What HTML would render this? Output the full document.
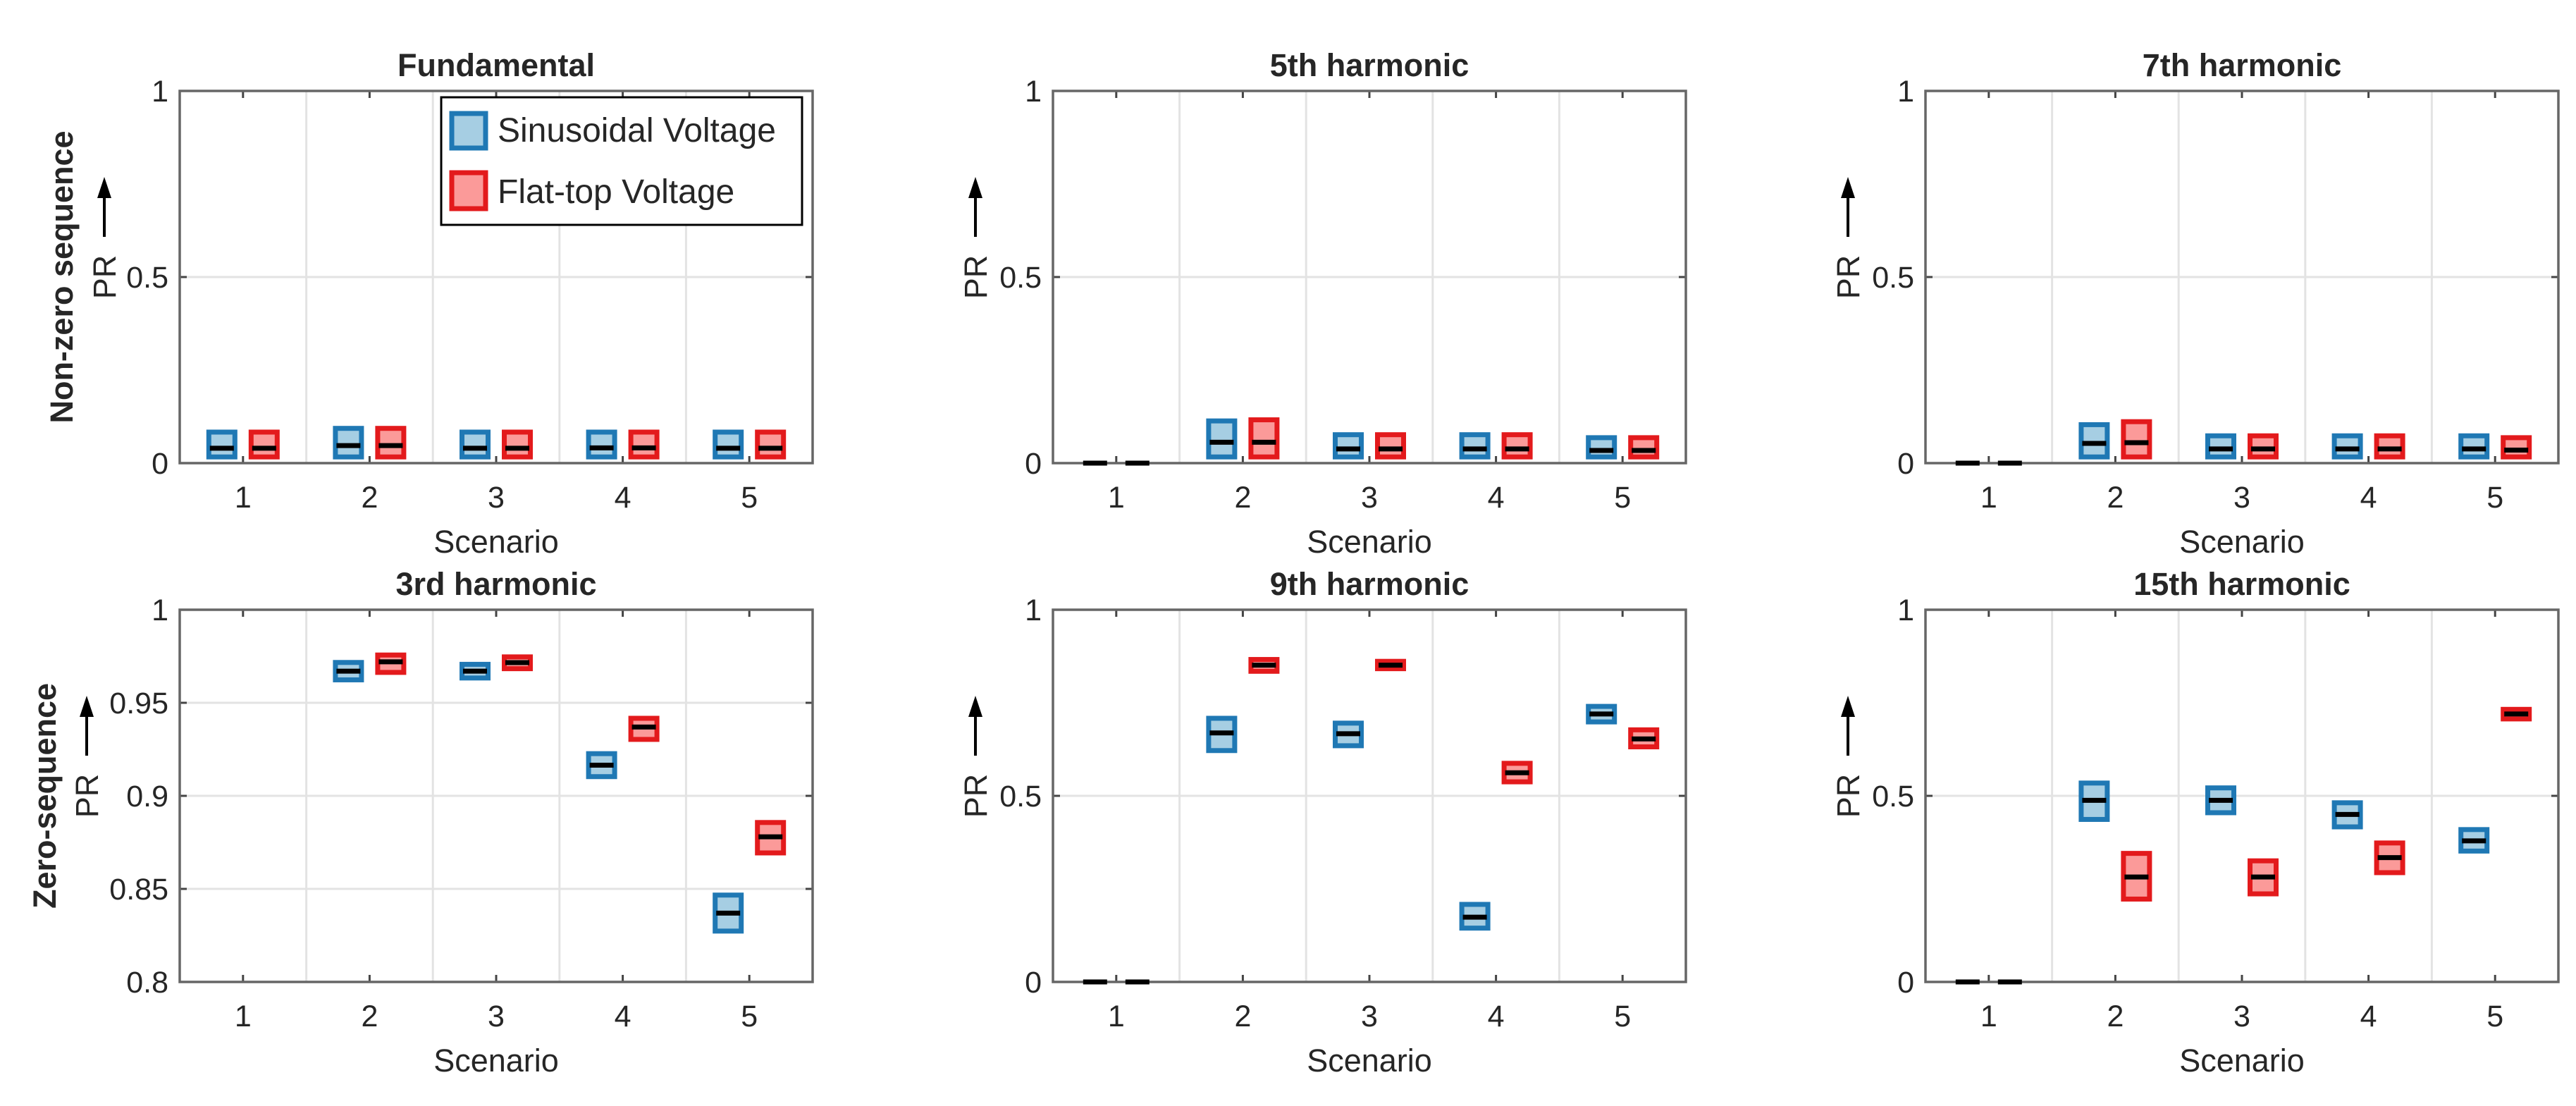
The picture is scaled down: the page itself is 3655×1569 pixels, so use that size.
<!DOCTYPE html>
<html><head><meta charset="utf-8"><style>
html,body{margin:0;padding:0;background:#fff;}
svg{display:block;}
text{font-family:"Liberation Sans",Arial,sans-serif;fill:#262626;}
</style></head><body>
<svg id="fig" xmlns="http://www.w3.org/2000/svg" width="3655" height="1569" viewBox="0 0 3655 1569"></svg>
<script>
const categories = [1, 2, 3, 4, 5];
const panelTitles = ["Fundamental", "5th harmonic", "7th harmonic", "3rd harmonic", "9th harmonic", "15th harmonic"];
const yTicksUnit = [0, 0.5, 1];
const yTickLabelsUnit = ["0", "0.5", "1"];
const yTicks3rd = [0.8, 0.85, 0.9, 0.95, 1];
const yTickLabels3rd = ["0.8", "0.85", "0.9", "0.95", "1"];
// each entry: [low, median, high] per scenario
const fundSin = [[0.01,0.04,0.09],[0.01,0.047,0.10],[0.01,0.04,0.09],[0.01,0.041,0.09],[0.01,0.04,0.09]];
const fundFlat = [[0.01,0.04,0.09],[0.01,0.047,0.10],[0.01,0.04,0.09],[0.01,0.041,0.09],[0.01,0.04,0.09]];
const h5Sin = [[0,0,0],[0.01,0.056,0.12],[0.01,0.038,0.083],[0.01,0.038,0.083],[0.01,0.034,0.075]];
const h5Flat = [[0,0,0],[0.01,0.056,0.123],[0.01,0.038,0.083],[0.01,0.038,0.083],[0.01,0.034,0.075]];
const h7Sin = [[0,0,0],[0.01,0.053,0.11],[0.01,0.038,0.08],[0.01,0.038,0.08],[0.01,0.038,0.08]];
const h7Flat = [[0,0,0],[0.01,0.055,0.118],[0.01,0.038,0.08],[0.01,0.038,0.08],[0.01,0.035,0.075]];
const h3Sin = [[null,null,null],[0.961,0.967,0.973],[0.962,0.967,0.972],[0.909,0.9165,0.924],[0.826,0.837,0.848]];
const h3Flat = [[null,null,null],[0.965,0.972,0.977],[0.967,0.9716,0.976],[0.929,0.937,0.943],[0.868,0.878,0.887]];
const h9Sin = [[0,0,0],[0.615,0.669,0.715],[0.628,0.667,0.702],[0.138,0.174,0.215],[0.692,0.72,0.747]];
const h9Flat = [[0,0,0],[0.828,0.851,0.873],[0.835,0.851,0.868],[0.531,0.562,0.594],[0.625,0.653,0.684]];
const h15Sin = [[0,0,0],[0.43,0.488,0.541],[0.448,0.488,0.528],[0.41,0.45,0.488],[0.345,0.379,0.416]];
const h15Flat = [[0,0,0],[0.216,0.282,0.352],[0.23,0.282,0.332],[0.287,0.334,0.38],[0.7,0.72,0.739]];

const NS = "http://www.w3.org/2000/svg";
const svg = document.getElementById("fig");
function mk(tag, attrs, parent, text){
  const e = document.createElementNS(NS, tag);
  for (const k in attrs) e.setAttribute(k, attrs[k]);
  if (text !== undefined) e.textContent = text;
  (parent||svg).appendChild(e);
  return e;
}
const lefts = [255, 1494, 2732];
const tops = [129, 865];
const W = 898, H = 528;
const panels = [
  {title:0, sin:fundSin, flat:fundFlat, ticks:yTicksUnit, labels:yTickLabelsUnit, ymin:0, ymax:1, col:0,row:0, name:"fundamental"},
  {title:1, sin:h5Sin, flat:h5Flat, ticks:yTicksUnit, labels:yTickLabelsUnit, ymin:0, ymax:1, col:1,row:0, name:"5th-harmonic"},
  {title:2, sin:h7Sin, flat:h7Flat, ticks:yTicksUnit, labels:yTickLabelsUnit, ymin:0, ymax:1, col:2,row:0, name:"7th-harmonic"},
  {title:3, sin:h3Sin, flat:h3Flat, ticks:yTicks3rd, labels:yTickLabels3rd, ymin:0.8, ymax:1, col:0,row:1, name:"3rd-harmonic"},
  {title:4, sin:h9Sin, flat:h9Flat, ticks:yTicksUnit, labels:yTickLabelsUnit, ymin:0, ymax:1, col:1,row:1, name:"9th-harmonic"},
  {title:5, sin:h15Sin, flat:h15Flat, ticks:yTicksUnit, labels:yTickLabelsUnit, ymin:0, ymax:1, col:2,row:1, name:"15th-harmonic"}
];
panels.forEach(p=>{
  const L = lefts[p.col], T = tops[p.row], B = T + H, R = L + W;
  const g = mk("g", {});
  
  
  const xS = v => L + (v - 0.5) / 5 * W;
  const yS = v => B - (v - p.ymin) / (p.ymax - p.ymin) * H;
  // grid
  for (let i = 1; i < 5; i++){
    const gl = mk("line", {x1:xS(i+0.5), x2:xS(i+0.5), y1:T, y2:B, stroke:"#e3e3e3", "stroke-width":3}, g);
    
    
  }
  p.ticks.forEach((t,i)=>{
    if (t !== p.ymin && t !== p.ymax){
      const gl = mk("line", {x1:L, x2:R, y1:yS(t), y2:yS(t), stroke:"#e3e3e3", "stroke-width":3}, g);
      
      
    }
    mk("line", {x1:L, x2:L+10, y1:yS(t), y2:yS(t), stroke:"#444", "stroke-width":3}, g);
    mk("line", {x1:R, x2:R-10, y1:yS(t), y2:yS(t), stroke:"#444", "stroke-width":3}, g);
    const tl = mk("text", {x:L-16, y:yS(t)+15, "text-anchor":"end", "font-size":43}, g, p.labels[i]);
    
    
  });
  categories.forEach(c=>{
    mk("line", {x1:xS(c), x2:xS(c), y1:B, y2:B-10, stroke:"#444", "stroke-width":3}, g);
    mk("line", {x1:xS(c), x2:xS(c), y1:T, y2:T+10, stroke:"#444", "stroke-width":3}, g);
    const tl = mk("text", {x:xS(c), y:B+63, "text-anchor":"middle", "font-size":43}, g, String(c));
    
    
  });
  const frame = mk("rect", {x:L, y:T, width:W, height:H, fill:"none", stroke:"#666", "stroke-width":3.5}, g);
  
  
  // boxes
  [[p.sin, -30, "#a6cee3", "#1f78b4", "sinusoidal"], [p.flat, 30, "#fb9a99", "#e31a1c", "flat-top"]].forEach(([data, off, fill, stroke, nm])=>{
    data.forEach((d, i)=>{
      if (d[1] === null) return;
      const cx = xS(categories[i]) + off;
      const y1 = yS(d[2]), y0 = yS(d[0]);
      if (y0 - y1 > 1){
        const r = mk("rect", {x:cx-18.5, y:y1+3.5, width:37, height:Math.max(0,y0-y1-7), fill:fill, stroke:stroke, "stroke-width":7}, g);
        
        
      }
      const m = mk("line", {x1:cx-17, x2:cx+17, y1:yS(d[1]), y2:yS(d[1]), stroke:"#000", "stroke-width":7}, g);
      
      
    });
  });
  const tt = mk("text", {x:L+W/2, y:T-21, "text-anchor":"middle", "font-size":45, "font-weight":"bold"}, g, panelTitles[p.title]);
  
  
  const xl = mk("text", {x:L+W/2, y:B+127, "text-anchor":"middle", "font-size":45}, g, "Scenario");
  
  
  const px = p.name === "3rd-harmonic" ? L-132 : (p.col === 0 ? L-107 : L-110);
  const mid = (T + B) / 2;
  const yl = mk("text", {x:px+16, y:mid, "text-anchor":"middle", "font-size":45, transform:`rotate(-90 ${px+16} ${mid})`}, g, "PR");
  
  
  const ar = mk("line", {x1:px, x2:px, y1:mid-57, y2:mid-118, stroke:"#000", "stroke-width":4}, g);
  
  
  mk("polygon", {points:`${px-10},${mid-112} ${px+10},${mid-112} ${px},${mid-142}`, fill:"#000"}, g);
});
// row labels
const r1 = mk("text", {x:87+16, y:393, "text-anchor":"middle", "font-size":45, "font-weight":"bold", transform:"rotate(-90 103 393)"}, svg, "Non-zero sequence");


const r2 = mk("text", {x:63+16, y:1129, "text-anchor":"middle", "font-size":45, "font-weight":"bold", transform:"rotate(-90 79 1129)"}, svg, "Zero-sequence");


// legend
const lg = mk("g", {});


mk("rect", {x:626, y:138, width:512, height:181, fill:"#fff", stroke:"#000", "stroke-width":3}, lg);
const li1 = mk("rect", {x:641, y:161, width:48, height:49, fill:"#a6cee3", stroke:"#1f78b4", "stroke-width":7}, lg);


const li2 = mk("rect", {x:641, y:245, width:48, height:51, fill:"#fb9a99", stroke:"#e31a1c", "stroke-width":7}, lg);


const lt1 = mk("text", {x:706, y:201, "font-size":48, fill:"#000"}, lg, "Sinusoidal Voltage");


const lt2 = mk("text", {x:706, y:288, "font-size":48, fill:"#000"}, lg, "Flat-top Voltage");


</script>
</body></html>
